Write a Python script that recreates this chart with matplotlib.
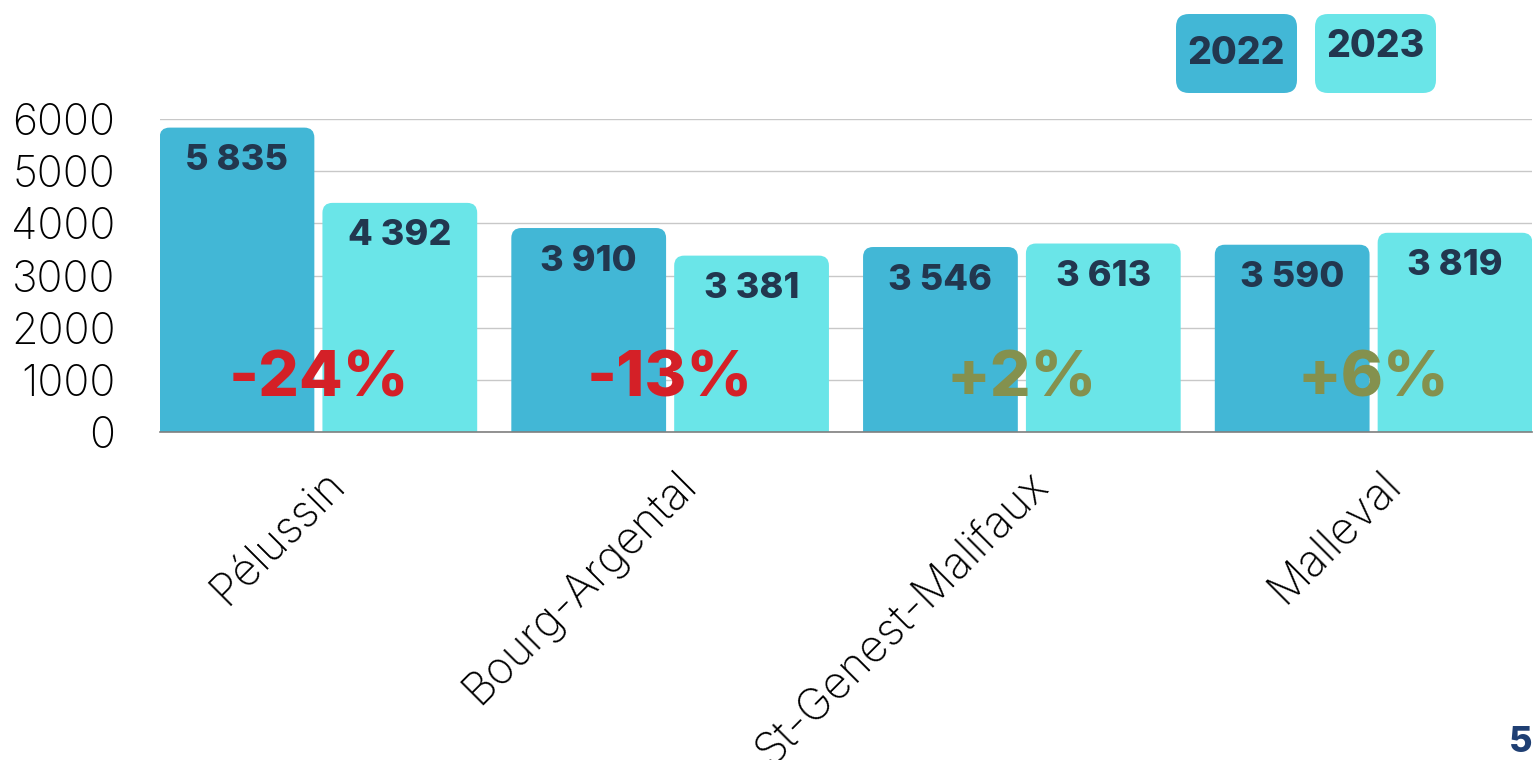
import matplotlib
matplotlib.use("Agg")
import matplotlib.pyplot as plt
from matplotlib.patches import FancyBboxPatch
from matplotlib.transforms import blended_transform_factory, offset_copy
import numpy as np

# data
communes = ["Pélussin", "Bourg-Argental", "St-Genest-Malifaux", "Malleval"]
v2022 = [5835, 3910, 3546, 3590]
v2023 = [4392, 3381, 3613, 3819]
lbl2022 = ["5 835", "3 910", "3 546", "3 590"]
lbl2023 = ["4 392", "3 381", "3 613", "3 819"]
evol = ["-24%", "-13%", "+2%", "+6%"]
years = ["2022", "2023"]
yticks = [0, 1000, 2000, 3000, 4000, 5000, 6000]

c22 = "#42B7D6"
c23 = "#6AE5E8"
navy = "#22374F"
red = "#D42027"
olive = "#84914E"

plt.rcParams['font.family'] = ['Inter', 'DejaVu Sans']

fig = plt.figure(figsize=(15.34, 7.6), dpi=100)
ax = fig.add_axes([160 / 1534, 328 / 760, 1372 / 1534, 313 / 760])

x = np.arange(len(communes))
w = 0.44
off = 0.2315
b1 = ax.bar(x - off, v2022, w, color=c22)
b2 = ax.bar(x + off, v2023, w, color=c23)

ax.set_xlim(-0.4503, 3.4503)
ax.set_ylim(0, 6000)
ax.set_yticks(yticks)
ax.set_yticklabels([str(t) for t in yticks], fontsize=31, fontweight='light')
ax.tick_params(axis='y', length=0, pad=32)
ax.set_xticks([])
ax.grid(axis='y', color='#C8C8C8', lw=1.0)
ax.set_axisbelow(True)
for s in ['top', 'right', 'left']:
    ax.spines[s].set_visible(False)
ax.spines['bottom'].set_color('#7F7F7F')
ax.spines['bottom'].set_linewidth(1.2)
ax.spines['bottom'].set_zorder(5)

# rounded tops: swap the bar rectangles for rounded boxes
fig.canvas.draw()
p0 = ax.transData.transform((0, 0))
p1 = ax.transData.transform((1, 1))
aspect = (p1[0] - p0[0]) / (p1[1] - p0[1])
r = 10 / (p1[0] - p0[0])
for rect in list(b1) + list(b2):
    rx, ry = rect.get_xy()
    rw, rh = rect.get_width(), rect.get_height()
    ry0 = ry - r * aspect * 1.5
    fb = FancyBboxPatch((rx, ry0), rw, rh + (ry - ry0),
                        boxstyle="round,pad=0,rounding_size=%f" % r,
                        mutation_aspect=aspect, fc=rect.get_facecolor(),
                        ec='none', zorder=2)
    ax.add_patch(fb)
    rect.set_visible(False)

# value labels
for xi, v, t in zip(x - off, v2022, lbl2022):
    ax.annotate(t, (xi, v), xytext=(0, -33), textcoords='offset pixels',
                ha='center', va='center', fontsize=26, fontweight='heavy',
                color=navy, zorder=4)
for xi, v, t in zip(x + off, v2023, lbl2023):
    ax.annotate(t, (xi, v), xytext=(0, -33), textcoords='offset pixels',
                ha='center', va='center', fontsize=26, fontweight='heavy',
                color=navy, zorder=4)

# evolution labels
for xi, t in zip(x, evol):
    col = red if t.startswith('-') else olive
    ax.text(xi, 1000, t, ha='center', va='center', fontsize=46,
            fontweight='heavy', color=col, zorder=5)

# category labels, rotated
trans = blended_transform_factory(ax.transData, fig.transFigure)
trans = offset_copy(trans, fig=fig, x=20, y=0, units='dots')
for xi, name in zip(x, communes):
    ax.text(xi, 1 - 478 / 760, name, transform=trans, rotation=45,
            ha='right', va='center', rotation_mode='anchor', fontsize=32,
            fontweight='light', color='black', clip_on=False)

# legend boxes
fasp = 1534 / 760
for x0, col, yr, ty in [(1176, c22, years[0], 54), (1315, c23, years[1], 47)]:
    box = FancyBboxPatch((x0 / 1534, 1 - 93 / 760), 121 / 1534, 79 / 760,
                         boxstyle="round,pad=0,rounding_size=%f" % (13 / 1534),
                         mutation_aspect=fasp, fc=col, ec='none',
                         transform=fig.transFigure)
    fig.patches.append(box)
    fig.text((x0 + 60) / 1534, 1 - ty / 760, yr, ha='center', va='center',
             fontsize=27, fontweight='heavy', color=navy)

# page number
fig.text(1521 / 1534, 1 - 742 / 760, "5", ha='center', va='center',
         fontsize=26, fontweight='heavy', color='#1F3F73')

fig.savefig("out.png", dpi=100)
